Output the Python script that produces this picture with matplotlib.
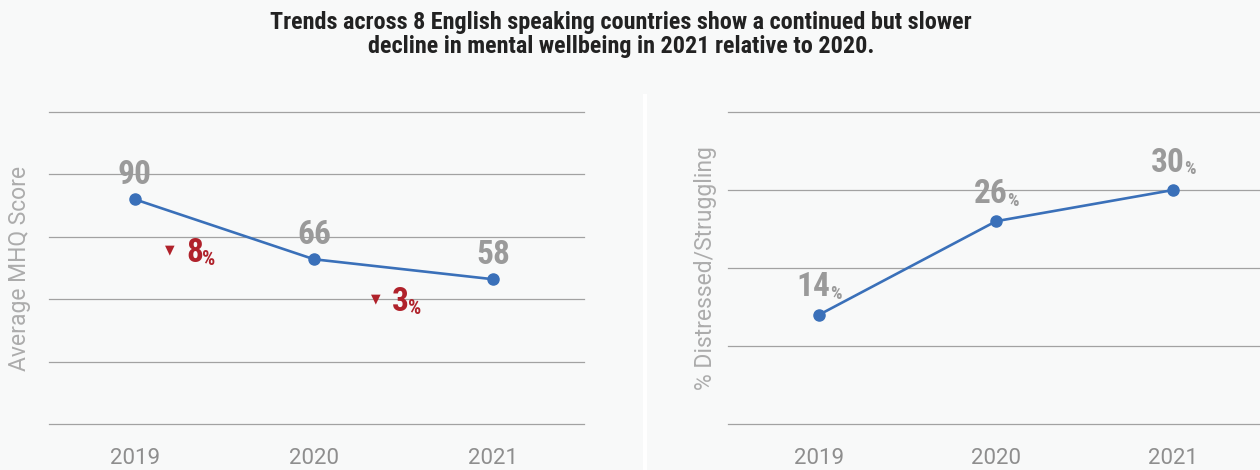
import matplotlib
matplotlib.use("Agg")
import matplotlib.pyplot as plt
from matplotlib import font_manager
from matplotlib.patches import Rectangle

# ---- data -------------------------------------------------------------
years = ["2019", "2020", "2021"]
mhq_score = [90, 66, 58]              # average MHQ score per year
mhq_decline_pct = [8, 3]              # year-on-year decline of the score
distressed_pct = [14, 26, 30]         # share of people distressed/struggling

title = ("Trends across 8 English speaking countries show a continued but slower\n"
         "decline in mental wellbeing in 2021 relative to 2020.")


def first_font(*names):
    have = {f.name for f in font_manager.fontManager.ttflist}
    for n in names:
        if n in have:
            return n
    return "DejaVu Sans"


NARROW = first_font("Roboto Condensed", "Liberation Sans Narrow", "DejaVu Sans")
UI = first_font("Roboto", "Liberation Sans", "DejaVu Sans")

BG = "#f8f9f9"
LINE = "#3a70b9"
GRID = "#a2a2a2"
NUM_GRAY = "#9a9a9a"
TICK_GRAY = "#8e8e8e"
LABEL_GRAY = "#acacac"
RED = "#b0222b"

W, H = 1260, 470
PX = 72 / 100  # points per pixel at dpi 100

fig = plt.figure(figsize=(W / 100, H / 100), dpi=100, facecolor=BG)

# thin white divider between the two panels
fig.patches.append(Rectangle((643 / W, 0), 4 / W, (H - 94) / H,
                             transform=fig.transFigure, facecolor="white",
                             edgecolor="none", zorder=0))

fig.text(621 / W, 1 - 11 / H, title, ha="center", va="top", fontsize=17.4,
         fontweight="bold", color="#222222", family=NARROW, linespacing=1.05)


def style_axes(ax, ymax, step):
    ax.set_facecolor("none")
    for s in ax.spines.values():
        s.set_visible(False)
    ax.set_ylim(0, ymax)
    ax.set_yticks(range(0, ymax + 1, step))
    ax.set_yticklabels([])
    ax.grid(axis="y", color=GRID, linewidth=0.9)
    ax.set_axisbelow(True)
    for gl in ax.get_ygridlines():
        gl.set_clip_on(False)
    ax.set_xticks(range(len(years)), years)
    ax.tick_params(axis="both", length=0)
    ax.tick_params(axis="x", pad=17.5, labelsize=16, labelcolor=TICK_GRAY)
    for lab in ax.get_xticklabels():
        lab.set_family(UI)


# ---- left panel: average MHQ score -------------------------------------
ax1 = fig.add_axes([49 / W, 46 / H, 535 / W, 312 / H])
style_axes(ax1, 125, 25)
ax1.set_xlim(-0.48, 2.508)
ax1.plot(range(len(years)), mhq_score, color=LINE, linewidth=1.9,
         marker="o", markersize=8, zorder=3, clip_on=False)
ax1.set_ylabel("Average MHQ Score", fontsize=16.5, color=LABEL_GRAY,
               family=UI, va="center")
ax1.yaxis.set_label_coords(-0.056, 0.5)

for i, v in enumerate(mhq_score):
    ax1.annotate(f"{v}", xy=(i, v), xytext=(0, 15.7 * PX),
                 textcoords="offset points", ha="center", va="baseline",
                 fontsize=24, fontweight="bold", color=NUM_GRAY, family=NARROW)

# year-on-year declines, placed below each segment
decline_offsets_px = [(51, -63), (78, -52)]
for i, (pct, (dx, dy)) in enumerate(zip(mhq_decline_pct, decline_offsets_px)):
    num = ax1.annotate(f"{pct}", xy=(i, mhq_score[i]),
                       xytext=(dx * PX, dy * PX), textcoords="offset points",
                       ha="left", va="baseline", fontsize=24,
                       fontweight="bold", color=RED, family=NARROW)
    ax1.annotate("%", xy=(1, 0), xycoords=num,
                 xytext=(-0.5, 0), textcoords="offset points",
                 ha="left", va="bottom", fontsize=15, fontweight="bold",
                 color=RED, family=NARROW)
    ax1.annotate("\u25BC", xy=(i, mhq_score[i]),
                 xytext=((dx - 16) * PX, (dy + 12) * PX),
                 textcoords="offset points", ha="center", va="center",
                 fontsize=9, color=RED, family="DejaVu Sans")

# ---- right panel: % distressed / struggling ----------------------------
ax2 = fig.add_axes([728 / W, 46 / H, (W - 728) / W, 312 / H])
style_axes(ax2, 40, 10)
ax2.set_xlim(-0.514, 2.49)
ax2.plot(range(len(years)), distressed_pct, color=LINE, linewidth=1.9,
         marker="o", markersize=8, zorder=3, clip_on=False)
ax2.set_ylabel("% Distressed/Struggling", fontsize=16.5, color=LABEL_GRAY,
               family=UI, va="center")
ax2.yaxis.set_label_coords(-0.0414, 0.5)

for i, v in enumerate(distressed_pct):
    num = ax2.annotate(f"{v}", xy=(i, v), xytext=(-5.5 * PX, 18.5 * PX),
                       textcoords="offset points", ha="center", va="baseline",
                       fontsize=24, fontweight="bold", color=NUM_GRAY,
                       family=NARROW)
    ax2.annotate("%", xy=(1, 0), xycoords=num,
                 xytext=(-0.5, 0), textcoords="offset points",
                 ha="left", va="bottom", fontsize=13, fontweight="bold",
                 color=NUM_GRAY, family=NARROW)

fig.savefig("out.png", dpi=100, facecolor=BG)
